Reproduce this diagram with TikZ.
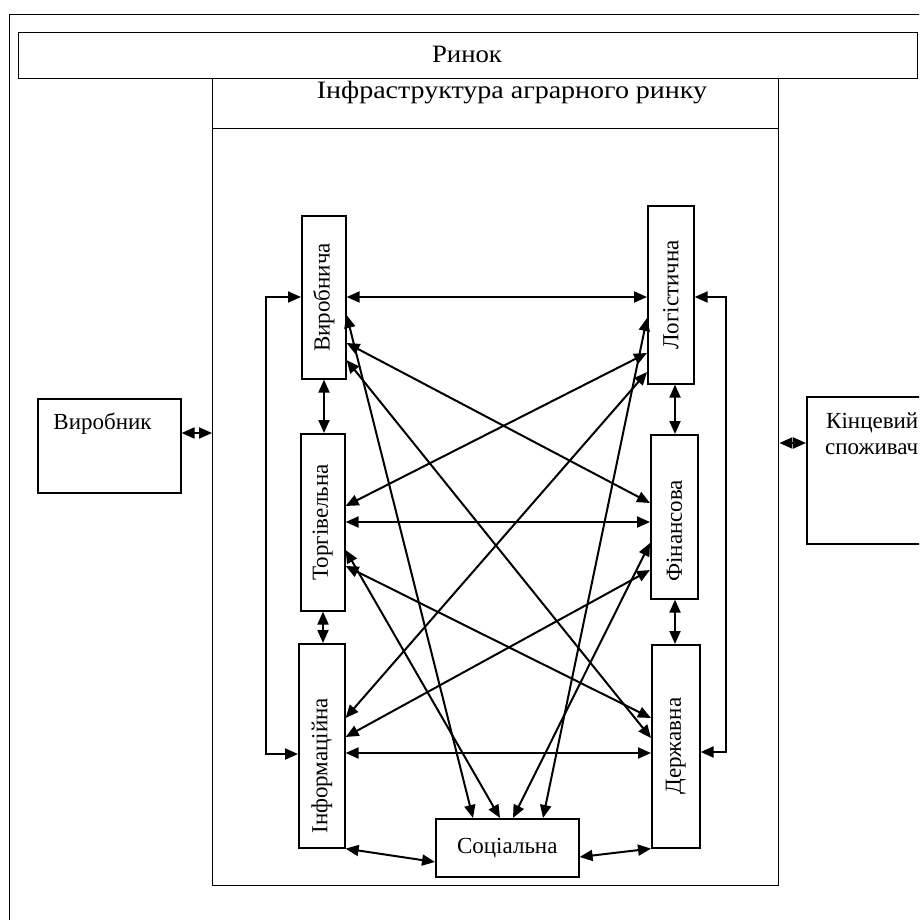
\documentclass[tikz,border=0pt]{standalone}
\usepackage{fontspec}
\setmainfont{Liberation Serif}
\usetikzlibrary{arrows.meta}
\begin{document}
\begin{tikzpicture}[x=1pt,y=-1pt,
  box/.style={draw, line width=1.6pt, inner sep=0pt, anchor=north west},
  thinbox/.style={draw, line width=1.4pt, inner sep=0pt, anchor=north west},
  lbl/.style={font=\fontsize{23}{27}\selectfont, inner sep=0pt},
  biglbl/.style={font=\fontsize{25}{29}\selectfont, inner sep=0pt},
  vlbl/.style={lbl, rotate=90},
  link/.style={line width=2pt, >={Triangle[length=13pt,width=11pt]}, <->}]
\useasboundingbox (0,0) rectangle (919,920);
\clip (0,0) rectangle (919,920);
% frames
\node[thinbox, minimum width=940pt, minimum height=940pt] (outer) at (9,14) {};
\node[thinbox, minimum width=899.4pt, minimum height=46pt] (R) at (17.6,32) {};
\node[biglbl, anchor=base] (Rt) at (467,63) {\scalebox{1.07}[1]{Ринок}};
\node[thinbox, minimum width=566pt, minimum height=807pt] (Big) at (212,78) {};
\node[thinbox, minimum width=566pt, minimum height=50pt] (Inf) at (212,78) {};
\node[biglbl, anchor=base] (Inft) at (512,99) {\scalebox{1.12}[1]{Інфраструктура аграрного ринку}};
% side boxes
\node[box, minimum width=143pt, minimum height=94pt] (P) at (37,398) {};
\node[lbl, anchor=base] (Pt) at (102.5,429) {Виробник};
\node[box, minimum width=140pt, minimum height=147pt] (C) at (806,396) {};
\node[lbl, anchor=base west] (Ct1) at (826,428) {Кінцевий};
\node[lbl, anchor=base west] (Ct2) at (825,454) {споживач};
% inner boxes
\node[box, minimum width=44pt, minimum height=163pt] (V) at (301,215) {};
\node[box, minimum width=46pt, minimum height=178pt] (L) at (647,205) {};
\node[box, minimum width=44pt, minimum height=177pt] (T) at (300,433) {};
\node[box, minimum width=47pt, minimum height=164pt] (F) at (650,434) {};
\node[box, minimum width=46pt, minimum height=204pt] (I) at (298,643) {};
\node[box, minimum width=48pt, minimum height=203pt] (D) at (651,644) {};
\node[box, minimum width=143pt, minimum height=58pt] (S) at (435,818) {};
\node[vlbl] (Vt) at (V.center) {Виробнича};
\node[vlbl] (Lt) at (L.center) {Логістична};
\node[vlbl] (Tt) at (T.center) {Торгівельна};
\node[vlbl] (Ft) at ([yshift=-14pt]F.center) {Фінансова};
\node[vlbl] (It) at ([yshift=-20pt]I.center) {Інформаційна};
\node[vlbl] (Dt) at (D.center) {Державна};
\node[lbl] (St) at (S.center) {Соціальна};
% outer connectors
\draw[link] (P.east |- 0,433) -- (Big.west |- 0,433);
\draw[link] (Big.east |- 0,443) -- (C.west |- 0,443);
% horizontal
\draw[link] (V.east |- 0,297) -- (L.west |- 0,297);
\draw[link] (T.east |- 0,522) -- (F.west |- 0,522);
\draw[link] (I.east |- 0,753) -- (D.west |- 0,753);
% vertical
\draw[link] (V.south -| 324,0) -- (T.north -| 324,0);
\draw[link] (T.south -| 323,0) -- (I.north -| 323,0);
\draw[link] (L.south -| 675,0) -- (F.north -| 675,0);
\draw[link] (F.south -| 675,0) -- (D.north -| 675,0);
% feedback loops
\coordinate (FL1) at (266,297);
\coordinate (FL2) at (266,754);
\coordinate (FR1) at (726,297);
\coordinate (FR2) at (726,752);
\draw[link] (V.west |- FL1) -- (FL1) -- (FL2) -- (I.west |- FL2);
\draw[link] (L.east |- FR1) -- (FR1) -- (FR2) -- (D.east |- FR2);
% diagonals
\draw[link] (V.east |- 0,343) -- (F.west |- 0,503);
\draw[link] (V.east |- 0,360) -- (D.west |- 0,738);
\draw[link] (V.east |- 0,315) -- (S.north -| 473,0);
\draw[link] (T.east |- 0,506) -- (L.west |- 0,353);
\draw[link] (T.east |- 0,550) -- (S.north -| 500,0);
\draw[link] (T.east |- 0,566) -- (D.west |- 0,718);
\draw[link] (L.west |- 0,372) -- (I.east |- 0,718);
\draw[link] (L.west |- 0,318) -- (S.north -| 543,0);
\draw[link] (F.west |- 0,543) -- (S.north -| 513,0);
\draw[link] (F.west |- 0,570) -- (I.east |- 0,737);
\draw[link] (I.south east) -- (S.west |- 0,862);
\draw[link] (S.east |- 0,857) -- (D.south west);
\end{tikzpicture}
\end{document}
